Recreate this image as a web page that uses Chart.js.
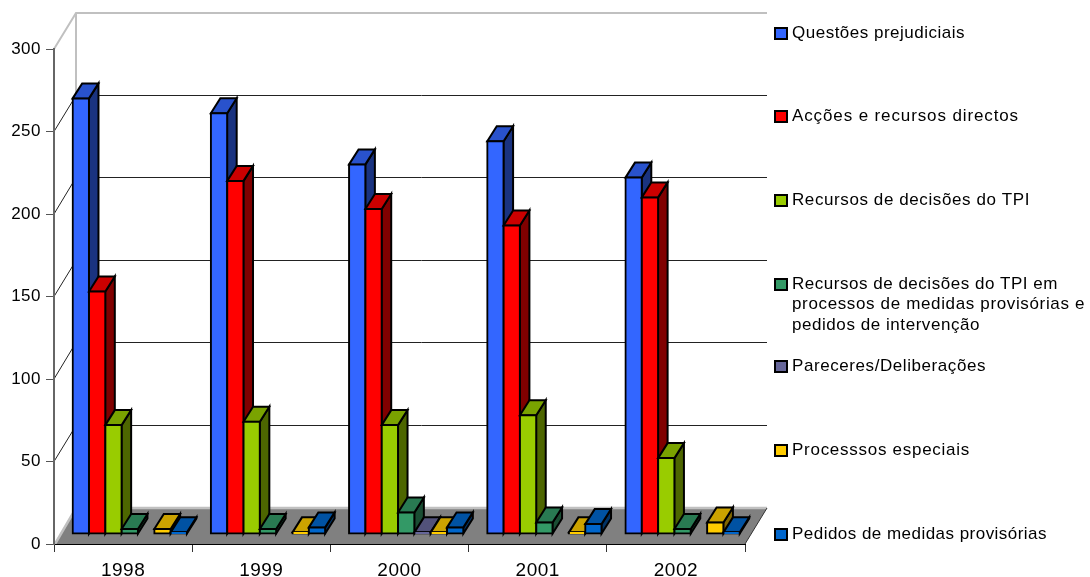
<!DOCTYPE html>
<html>
<head>
<meta charset="utf-8">
<style>
html,body{margin:0;padding:0;background:#fff;}
#wrap{position:relative;width:1090px;height:577px;}
</style>
<script src="https://cdn.jsdelivr.net/npm/chart.js@4/dist/chart.umd.min.js"></script>
</head>
<body>
<div id="wrap"><canvas id="c" width="1090" height="577"></canvas></div>
<script>
const years = ['1998','1999','2000','2001','2002'];
const questoes   = [264,255,224,238,216];
const accoes     = [147,214,197,187,204];
const recursos   = [66,68,66,72,46];
const cautelares = [3,3,13,7,3];
const pareceres  = [null,null,1,null,null];
const especiais  = [3,1,1,1,7];
const medidas    = [1,4,4,6,1];
const seriesValues = [questoes,accoes,recursos,cautelares,pareceres,especiais,medidas];
const seriesColors = ['#3366ff','#ff0000','#99cc00','#339966','#666699','#ffcc00','#0066cc'];
const legendEntries = [
  ['Questões prejudiciais'],
  ['Acções e recursos directos'],
  ['Recursos de decisões do TPI'],
  ['Recursos de decisões do TPI em','processos de medidas provisórias e','pedidos de intervenção'],
  ['Pareceres/Deliberações'],
  ['Processsos especiais'],
  ['Pedidos de medidas provisórias']
];
const legendY = [33,116,200,284,366,450,534];
const legendLineWidths = [[173],[227],[238],[266,293,188],[194],[178],[255]];

const FONT = '"Liberation Sans", Arial, sans-serif';
const WALL = {dx:22, dy:36};      // offset of the back wall from the front plane
const BAR  = {dx:6.7, dy:10, depthX:9.5, depthY:15}; // bar row position and depth

function shade(hex, f){
  const n = parseInt(hex.slice(1),16);
  const c = [(n>>16)&255,(n>>8)&255,n&255].map(v=>Math.round(v*f));
  return 'rgb('+c.join(',')+')';
}
function poly(ctx, pts, fill, stroke, lw){
  ctx.beginPath();
  pts.forEach((p,i)=> i?ctx.lineTo(p[0],p[1]):ctx.moveTo(p[0],p[1]));
  ctx.closePath();
  if(fill){ctx.fillStyle=fill;ctx.fill();}
  if(stroke){ctx.strokeStyle=stroke;ctx.lineWidth=lw;ctx.lineJoin='miter';ctx.stroke();}
}
function seg(ctx, pts, color, lw){
  ctx.beginPath();
  pts.forEach((p,i)=> i?ctx.lineTo(p[0],p[1]):ctx.moveTo(p[0],p[1]));
  ctx.strokeStyle=color;ctx.lineWidth=lw;ctx.stroke();
}

// Walls, floor and the receding grid lines
const stage = {
  id:'stage',
  beforeDraw(chart){
    const {ctx, chartArea:a, scales:{y}} = chart;
    ctx.save();
    const bx=a.left+WALL.dx, rx=a.right+WALL.dx, fy=a.bottom, by=fy-WALL.dy;
    poly(ctx,[[a.left,fy],[a.right,fy],[rx,by],[bx,by]],'#808080');
    seg(ctx,[[a.left+1,fy],[bx,by],[rx,by]],'#c0c0c0',2.5);
    seg(ctx,[[a.right,fy],[rx,by]],'#333333',1);
    y.ticks.forEach(t=>{
      if(t.value===0) return;
      const py=y.getPixelForValue(t.value);
      const top=t.value===y.max;
      const backY=Math.round(py-WALL.dy)-0.5+(top?0.5:0);
      seg(ctx,[[a.left,py],[bx,backY],[rx,backY]],top?'#c0c0c0':'#222222',top?2:1);
    });
    seg(ctx,[[bx,y.getPixelForValue(y.max)-WALL.dy],[bx,by]],'#c0c0c0',2);
    ctx.restore();
    ctx.letterSpacing='0.5px';
  }
};

// Bars are painted left to right, each with its side and top face behind the front
const bars3d = {
  id:'bars3d',
  beforeDatasetDraw(){ return false; },
  afterDatasetsDraw(chart){
    const ctx=chart.ctx;
    ctx.save();
    ctx.translate(BAR.dx,-BAR.dy);
    seriesColors.forEach((col,i)=>{
      const meta=chart.getDatasetMeta(i);
      meta.data.forEach((el,j)=>{
        if(seriesValues[i][j]===null) return;
        const x0=el.x-el.width/2,x1=el.x+el.width/2,t=el.y,b=el.base;
        const ex=BAR.depthX,ey=BAR.depthY;
        poly(ctx,[[x1,t],[x1+ex,t-ey],[x1+ex,b-ey],[x1,b]],shade(col,0.5),'#000',2);
        poly(ctx,[[x0,t],[x0+ex,t-ey],[x1+ex,t-ey],[x1,t]],shade(col,0.8),'#000',2);
      });
      meta.controller.draw();
    });
    ctx.restore();
  }
};

// Key on the right, with one marker per series
const keyPanel = {
  id:'keyPanel',
  afterDraw(chart){
    const ctx=chart.ctx;
    ctx.save();
    ctx.font='17px '+FONT;
    ctx.textBaseline='alphabetic';
    ctx.textAlign='left';
    legendEntries.forEach((lines,i)=>{
      const y=legendY[i];
      ctx.fillStyle=seriesColors[i];
      ctx.strokeStyle='#000';ctx.lineWidth=2;
      ctx.fillRect(775,y-5,12,11);
      ctx.strokeRect(775,y-5,12,11);
      ctx.fillStyle='#000';
      lines.forEach((s,k)=>{
        ctx.letterSpacing='0px';
        const natural=ctx.measureText(s).width;
        ctx.letterSpacing=((legendLineWidths[i][k]-natural)/s.length)+'px';
        ctx.fillText(s,792,y+4.5+k*20.5);
      });
    });
    ctx.restore();
  }
};

new Chart(document.getElementById('c'),{
  type:'bar',
  data:{
    labels:years,
    datasets:seriesValues.map((vals,i)=>({
      label:legendEntries[i].join(' '),
      data:vals,
      backgroundColor:seriesColors[i],
      borderColor:'#000',
      borderWidth:2,
      inflateAmount:1,
      borderSkipped:false,
      categoryPercentage:0.827,
      barPercentage:1,
      clip:false
    }))
  },
  options:{
    responsive:false,
    animation:false,
    layout:{padding:{left:0,right:345,top:49,bottom:0}},
    plugins:{legend:{display:false},tooltip:{enabled:false}},
    scales:{
      x:{
        afterFit(s){s.height=33;},
        grid:{drawOnChartArea:false,drawTicks:true,tickLength:8,color:'#333333',offset:true},
        border:{color:'#000000',width:1},
        ticks:{color:'#000',font:{family:FONT,size:19},padding:7,maxRotation:0}
      },
      y:{
        min:0,max:300,
        afterFit(s){s.width=54;},
        grid:{drawOnChartArea:false,drawTicks:true,tickLength:8,color:'#555555'},
        border:{color:'#666666',width:2},
        ticks:{stepSize:50,color:'#000',font:{family:FONT,size:17},padding:5}
      }
    }
  },
  plugins:[stage,bars3d,keyPanel]
});
</script>
</body>
</html>
